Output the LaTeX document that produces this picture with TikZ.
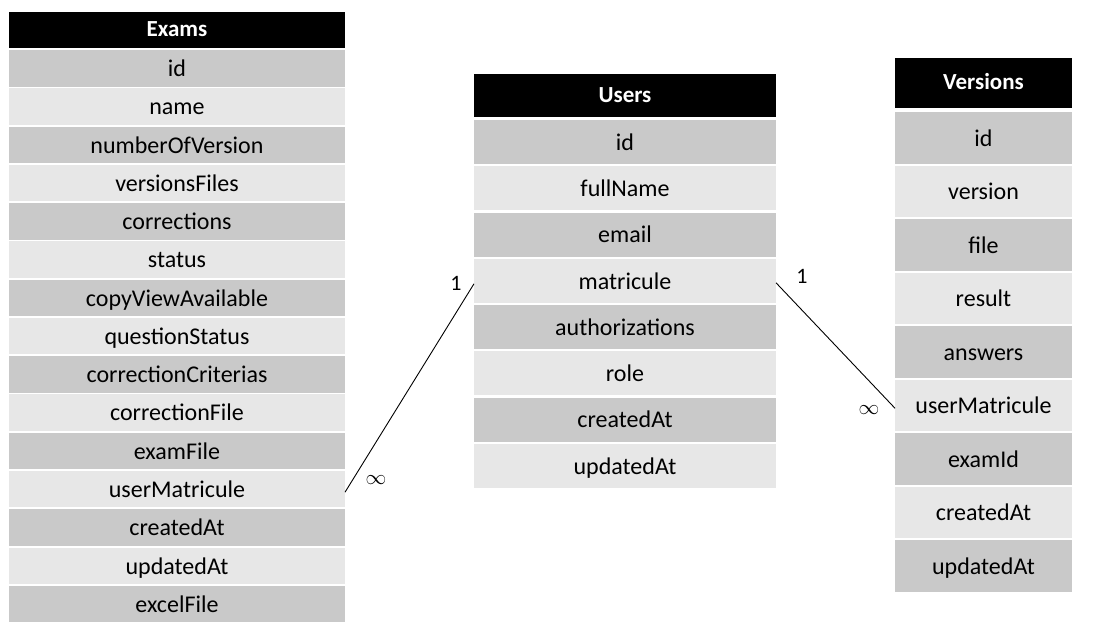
\documentclass[tikz,border=0pt]{standalone}
\usepackage{fontspec}
\setmainfont{Carlito}
\definecolor{rowdark}{HTML}{C9C9C9}
\definecolor{rowlight}{HTML}{E7E7E7}
\tikzset{
  cell/.style={anchor=north west, inner sep=0pt, outer sep=0pt, font=\fontsize{24}{28}\selectfont, text=black, text height=16.6pt, text depth=0pt},
  headcell/.style={cell, fill=black, text=white, font=\fontsize{23}{28}\selectfont\bfseries, text height=13.5pt},
  row1/.style={cell, fill=rowdark},
  row0/.style={cell, fill=rowlight},
  rel/.style={draw=black, line width=0.9pt},
  card/.style={inner sep=0pt, font=\fontsize{22}{26}\selectfont},
}
\begin{document}
\begin{tikzpicture}[x=1pt,y=-1pt]
\useasboundingbox[fill=white] (0,0) rectangle (1102,641);
% Exams
\node[headcell, minimum width=336pt, minimum height=36pt] (eh) at (9,12) {Exams};
\foreach \t [count=\i] in {id,name,numberOfVersion,versionsFiles,corrections,status,copyViewAvailable,questionStatus,correctionCriterias,correctionFile,examFile,userMatricule,createdAt,updatedAt,excelFile}{
  \pgfmathsetmacro{\yy}{50+(\i-1)*38.27}
  \pgfmathtruncatemacro{\pty}{mod(\i,2)}
  \node[row\pty, minimum width=336pt, minimum height=36.5pt] (e\i) at (9,\yy) {\t};
}
% Users
\node[headcell, minimum width=302pt, minimum height=43pt] (uh) at (474,74) {Users};
\foreach \t [count=\i] in {id,fullName,email,matricule,authorizations,role,createdAt,updatedAt}{
  \pgfmathsetmacro{\yy}{120+(\i-1)*46.25}
  \pgfmathtruncatemacro{\pty}{mod(\i,2)}
  \node[row\pty, minimum width=302pt, minimum height=44pt] (u\i) at (474,\yy) {\t};
}
% Versions
\node[headcell, minimum width=177pt, minimum height=50pt] (vh) at (895,58) {Versions};
\foreach \t [count=\i] in {id,version,file,result,answers,userMatricule,examId,createdAt,updatedAt}{
  \pgfmathsetmacro{\yy}{112+(\i-1)*53.5}
  \pgfmathtruncatemacro{\pty}{mod(\i,2)}
  \node[row\pty, minimum width=177pt, minimum height=51.5pt] (v\i) at (895,\yy) {\t};
}
% relations
\draw[rel] ([yshift=-3pt]e12.east) -- ([yshift=-3pt]u4.west);
\draw[rel] ([yshift=-2pt]u4.east) -- ([yshift=-3pt]v6.west);
\node[card] (c1) at (456,283) {1};
\node[card] (c2) at (376,480) {$\infty$};
\node[card] (c3) at (802,276) {1};
\node[card] (c4) at (869,410) {$\infty$};
\end{tikzpicture}
\end{document}
